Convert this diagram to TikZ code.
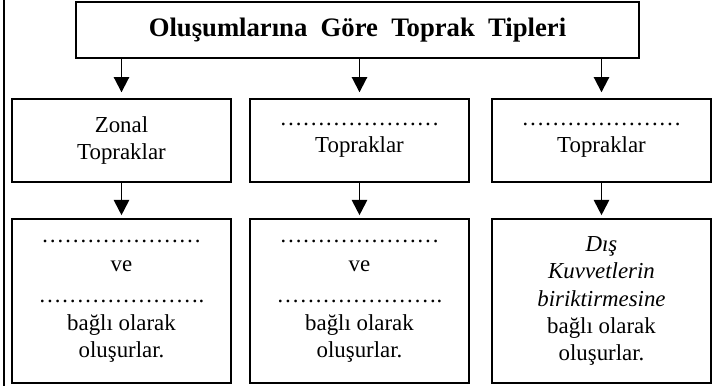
\documentclass[tikz,border=0pt]{standalone}
\usepackage{fontspec}
\setmainfont{Liberation Serif}
\usetikzlibrary{arrows.meta}
\tikzset{
  box/.style={draw, line width=1pt, align=center, inner sep=0, minimum width=115pt,
    font=\fontsize{12}{14.4}\selectfont},
  arrow/.style={line width=1pt, -{Triangle[width=8pt,length=8pt]}}
}
\begin{document}
\begin{tikzpicture}[x=0.525pt, y=-0.525pt]
  \useasboundingbox (0,0) rectangle (719,386);
  \draw [line width=1pt] (4,0) -- (4,386);
  % title
  \node [box, minimum width=295.5pt, minimum height=29.4pt,
    font=\fontsize{14}{16}\selectfont\bfseries] (title) at (357.5,30)
    {Oluşumlarına\ \ Göre\ \ Toprak\ \ Tipleri};
  % soil types
  \node [box, minimum height=43.6pt] (zonal) at (121.5,140.5) {Zonal\\Topraklar};
  \node [box, minimum height=43.6pt] (middle) at (359.5,140.5) {…………………\\Topraklar};
  \node [box, minimum height=43.6pt] (right) at (601.5,140.5) {…………………\\Topraklar};
  % how they form
  \node [box, minimum height=86.1pt] (zonalcause) at (121.5,301)
    {…………………\\[1pt]ve\\[2pt]………………….\\bağlı olarak\\oluşurlar.};
  \node [box, minimum height=86.1pt] (middlecause) at (359.5,301)
    {…………………\\[1pt]ve\\[2pt]………………….\\bağlı olarak\\oluşurlar.};
  \node [box, minimum height=86.1pt] (rightcause) at (601.5,301)
    {\textit{Dış}\\\textit{Kuvvetlerin}\\\textit{biriktirmesine}\\bağlı olarak\\oluşurlar.};
  % arrows
  \draw [arrow, shorten >=3pt] (title.south -| zonal.north) -- (zonal.north);
  \draw [arrow, shorten >=3pt] (title.south -| middle.north) -- (middle.north);
  \draw [arrow, shorten >=3pt] (title.south -| right.north) -- (right.north);
  \draw [arrow, shorten >=1.5pt] (zonal) -- (zonalcause);
  \draw [arrow, shorten >=1.5pt] (middle) -- (middlecause);
  \draw [arrow, shorten >=1.5pt] (right) -- (rightcause);
\end{tikzpicture}
\end{document}
